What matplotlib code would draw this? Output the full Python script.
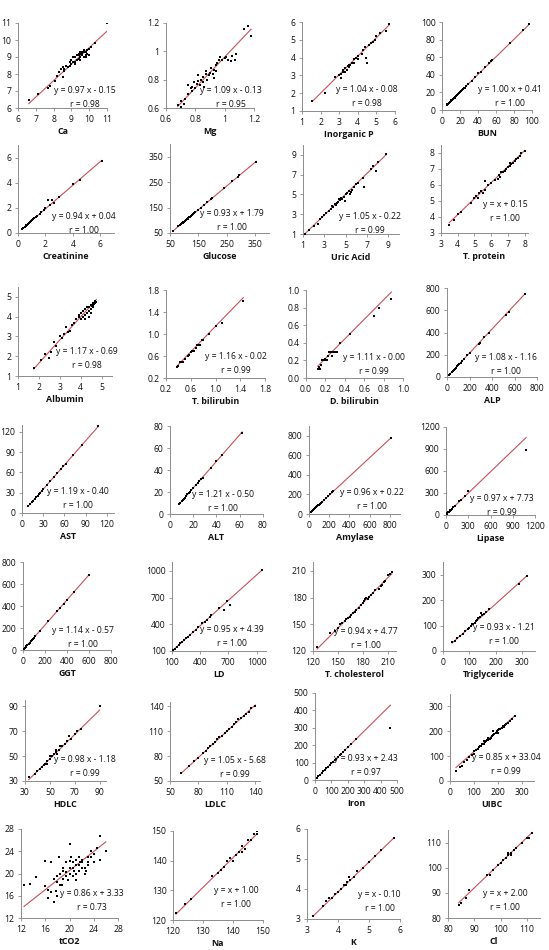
import matplotlib
matplotlib.use("Agg")
import matplotlib.pyplot as plt
import matplotlib.transforms as mtransforms
from matplotlib.ticker import FixedLocator, FuncFormatter

plt.rcParams['font.family'] = ['Open Sans', 'DejaVu Sans']

# ---------------- DATA ----------------
names = ["Ca", "Mg", "Inorganic P", "BUN",
         "Creatinine", "Glucose", "Uric Acid", "T. protein",
         "Albumin", "T. bilirubin", "D. bilirubin", "ALP",
         "AST", "ALT", "Amylase", "Lipase",
         "GGT", "LD", "T. cholesterol", "Triglyceride",
         "HDLC", "LDLC", "Iron", "UIBC",
         "tCO2", "Na", "K", "Cl"]

slopes = [0.97, 1.09, 1.04, 1.00,
          0.94, 0.93, 1.05, 1.00,
          1.17, 1.16, 1.11, 1.08,
          1.19, 1.21, 0.96, 0.97,
          1.14, 0.95, 0.94, 0.93,
          0.98, 1.05, 0.93, 0.85,
          0.86, 1.00, 1.00, 1.00]
intercepts = [-0.15, -0.13, -0.08, 0.41,
              0.04, 1.79, -0.22, 0.15,
              -0.69, -0.02, -0.00, -1.16,
              -0.40, -0.50, 0.22, 7.73,
              -0.57, 4.39, 4.77, -1.21,
              -1.18, -5.68, 2.43, 33.04,
              3.33, 1.00, -0.10, 2.00]
eq_labels = ["y = 0.97 x - 0.15", "y = 1.09 x - 0.13", "y = 1.04 x - 0.08", "y = 1.00 x + 0.41",
             "y = 0.94 x + 0.04", "y = 0.93 x + 1.79", "y = 1.05 x - 0.22", "y = x + 0.15",
             "y = 1.17 x - 0.69", "y = 1.16 x - 0.02", "y = 1.11 x - 0.00", "y = 1.08 x - 1.16",
             "y = 1.19 x - 0.40", "y = 1.21 x - 0.50", "y = 0.96 x + 0.22", "y = 0.97 x + 7.73",
             "y = 1.14 x - 0.57", "y = 0.95 x + 4.39", "y = 0.94 x + 4.77", "y = 0.93 x - 1.21",
             "y = 0.98 x - 1.18", "y = 1.05 x - 5.68", "y = 0.93 x + 2.43", "y = 0.85 x + 33.04",
             "y = 0.86 x + 3.33", "y = x + 1.00", "y = x - 0.10", "y = x + 2.00"]
r_labels = ["r = 0.98", "r = 0.95", "r = 0.98", "r = 1.00",
            "r = 1.00", "r = 1.00", "r = 0.99", "r = 1.00",
            "r = 0.98", "r = 0.99", "r = 0.99", "r = 1.00",
            "r = 1.00", "r = 1.00", "r = 1.00", "r = 0.99",
            "r = 1.00", "r = 1.00", "r = 1.00", "r = 1.00",
            "r = 0.99", "r = 0.99", "r = 0.97", "r = 0.99",
            "r = 0.73", "r = 1.00", "r = 1.00", "r = 1.00"]

ca_pts = [(6.6, 6.5), (7.1, 6.8), (7.7, 7.2), (7.8, 7.3), (8.1, 7.6), (8.2, 7.9), (8.4, 8.3), (8.5, 7.8),
          (8.5, 8.4), (8.6, 8.2), (8.7, 8.5), (8.8, 8.4), (8.9, 8.5), (8.9, 8.7), (9.0, 8.6), (9.0, 8.8),
          (9.1, 8.7), (9.1, 9.0), (9.2, 8.7), (9.2, 9.0), (9.3, 8.8), (9.3, 9.1), (9.4, 8.9), (9.4, 9.1),
          (9.4, 9.2), (9.5, 9.0), (9.5, 9.2), (9.5, 9.3), (9.6, 9.1), (9.6, 9.2), (9.6, 9.3), (9.7, 9.0),
          (9.7, 9.3), (9.7, 9.4), (9.8, 9.1), (9.8, 9.3), (9.9, 9.2), (9.9, 9.4), (10.0, 9.1), (10.0, 9.5),
          (10.1, 9.6), (10.3, 9.8), (11.0, 11.0), (8.3, 8.1), (8.6, 8.3), (9.2, 8.6), (9.5, 8.8), (9.8, 9.0)]
mg_pts = [(0.68, 0.62), (0.70, 0.61), (0.70, 0.65), (0.72, 0.63), (0.73, 0.66), (0.75, 0.70), (0.78, 0.72),
          (0.78, 0.75), (0.79, 0.78), (0.80, 0.74), (0.81, 0.77), (0.82, 0.79), (0.82, 0.83), (0.83, 0.76),
          (0.84, 0.80), (0.85, 0.78), (0.85, 0.82), (0.86, 0.75), (0.87, 0.84), (0.87, 0.86), (0.88, 0.80),
          (0.89, 0.83), (0.90, 0.85), (0.91, 0.88), (0.92, 0.84), (0.93, 0.81), (0.93, 0.87), (0.94, 0.86),
          (0.94, 0.90), (0.95, 0.92), (0.96, 0.94), (0.97, 0.96), (0.98, 0.94), (1.00, 0.95), (1.01, 0.96),
          (1.02, 0.94), (1.04, 0.93), (1.05, 0.97), (1.07, 0.94), (1.08, 0.98), (1.13, 1.16), (1.16, 1.18),
          (1.18, 1.11), (0.75, 0.76), (0.77, 0.74)]
ip_pts = [(1.55, 1.58), (2.25, 2.0), (2.8, 2.9), (3.0, 3.0), (3.1, 2.85), (3.1, 3.1), (3.2, 3.3), (3.3, 3.2),
          (3.3, 3.4), (3.4, 3.3), (3.5, 3.6), (3.5, 3.5), (3.6, 3.6), (3.7, 3.7), (3.8, 3.7), (3.8, 3.9),
          (3.9, 4.0), (4.0, 3.9), (4.0, 4.1), (4.2, 4.2), (4.3, 4.4), (4.4, 4.6), (4.45, 4.0), (4.5, 3.7),
          (4.6, 4.7), (4.7, 4.8), (4.8, 4.9), (4.9, 5.0), (5.0, 5.2), (5.2, 5.4), (5.5, 5.5), (5.7, 5.9),
          (3.2, 3.2), (3.45, 3.55)]
bun_pts = [(5, 5.5), (6, 6.5), (7, 7.3), (8, 8.5), (9, 9.2), (10, 10.5), (11, 11.3), (12, 12.4), (13, 13.5),
           (14, 14.2), (15, 15.6), (16, 16.3), (17, 17.5), (18, 18.2), (19, 19.6), (20, 20.3), (21, 21.5),
           (22, 22.2), (23, 23.6), (24, 24.5), (25, 25.3), (27, 27.5), (29, 29.6), (33, 33.2), (37, 38),
           (40, 42), (43, 43.5), (48, 49), (52, 53), (54, 56), (56, 57), (75, 76), (90, 91), (97, 98),
           (9.5, 10), (10.5, 11), (12.5, 12.8), (14.5, 15), (16.5, 17), (18.5, 19)]
cre_pts = [(0.3, 0.32), (0.4, 0.42), (0.5, 0.5), (0.55, 0.56), (0.6, 0.6), (0.65, 0.65), (0.7, 0.7),
           (0.75, 0.74), (0.8, 0.8), (0.85, 0.84), (0.9, 0.9), (0.95, 0.93), (1.0, 1.0), (1.05, 1.0),
           (1.1, 1.08), (1.2, 1.18), (1.3, 1.25), (1.4, 1.35), (1.6, 1.55), (1.7, 1.65), (1.9, 1.85),
           (2.0, 2.0), (2.2, 2.6), (2.3, 2.2), (2.5, 2.65), (2.6, 2.4), (3.0, 2.9), (4.0, 3.9), (4.5, 4.25),
           (6.1, 5.75)]
glu_pts = [(60, 58), (80, 78), (85, 82), (88, 84), (90, 86), (92, 88), (95, 90), (97, 92), (100, 95),
           (102, 96), (105, 100), (108, 102), (110, 104), (112, 106), (115, 108), (118, 112), (120, 114),
           (125, 118), (128, 121), (130, 124), (135, 128), (140, 132), (150, 142), (160, 150), (170, 160),
           (180, 170), (195, 185), (200, 188), (240, 225), (270, 255), (290, 272), (295, 278), (355, 330)]
ua_pts = [(1.2, 1.0), (1.6, 1.4), (2.0, 1.8), (2.4, 2.0), (2.6, 2.5), (2.8, 2.7), (3.0, 2.9), (3.2, 3.1),
          (3.4, 3.3), (3.6, 3.5), (3.7, 3.8), (3.8, 3.7), (4.0, 4.0), (4.1, 3.9), (4.3, 4.2), (4.4, 4.5),
          (4.5, 4.4), (4.6, 4.6), (4.7, 4.5), (4.8, 4.7), (4.9, 4.3), (5.0, 5.0), (5.1, 5.1), (5.3, 5.3),
          (5.5, 5.2), (5.6, 5.5), (5.8, 5.8), (6.0, 6.1), (6.2, 6.2), (6.6, 6.7), (6.7, 5.8), (7.4, 7.6),
          (7.6, 7.9), (7.8, 7.4), (8.0, 8.3), (8.8, 9.1), (5.4, 5.0), (4.2, 4.1)]
tp_pts = [(3.5, 3.5), (3.8, 3.8), (4.0, 4.2), (4.2, 4.3), (4.8, 4.9), (5.0, 5.2), (5.1, 5.3), (5.2, 5.2),
          (5.3, 5.5), (5.4, 5.6), (5.5, 5.5), (5.6, 5.7), (5.65, 6.25), (5.8, 6.0), (6.0, 6.1), (6.2, 6.3),
          (6.4, 6.4), (6.5, 6.5), (6.6, 6.8), (6.7, 6.8), (6.8, 6.9), (6.9, 7.0), (7.0, 7.1), (7.1, 7.2),
          (7.2, 7.3), (7.3, 7.4), (7.4, 7.5), (7.5, 7.6), (7.6, 7.7), (7.7, 7.8), (7.8, 8.0), (8.0, 8.1),
          (6.45, 6.6), (7.15, 7.35)]
alb_pts = [(1.75, 1.4), (2.1, 1.8), (2.3, 2.1), (2.5, 1.9), (2.6, 2.2), (2.7, 2.7), (2.8, 2.5), (3.0, 3.0),
           (3.1, 2.9), (3.2, 3.1), (3.3, 3.5), (3.4, 3.2), (3.5, 3.3), (3.6, 3.6), (3.7, 3.7), (3.8, 3.9),
           (3.9, 4.0), (3.9, 4.1), (4.0, 4.2), (4.0, 3.9), (4.1, 4.0), (4.1, 4.3), (4.2, 4.1), (4.2, 4.4),
           (4.3, 4.2), (4.3, 4.5), (4.4, 4.3), (4.4, 4.5), (4.5, 4.4), (4.5, 4.6), (4.5, 4.2), (4.6, 4.5),
           (4.6, 4.7), (4.6, 4.6), (4.7, 4.7), (4.7, 4.8), (4.75, 4.75), (4.2, 3.9), (4.4, 4.0),
           (4.55, 4.55), (4.65, 4.65)]
tb_pts = [(0.38, 0.4), (0.4, 0.42), (0.42, 0.5), (0.45, 0.5), (0.48, 0.5), (0.5, 0.55), (0.55, 0.6),
          (0.57, 0.62), (0.6, 0.68), (0.62, 0.7), (0.65, 0.7), (0.68, 0.75), (0.7, 0.8), (0.72, 0.8),
          (0.75, 0.8), (0.78, 0.9), (0.8, 0.9), (0.9, 1.0), (1.0, 1.15), (1.1, 1.2), (1.45, 1.6)]
db_pts = [(0.12, 0.1), (0.13, 0.12), (0.14, 0.1), (0.15, 0.15), (0.16, 0.2), (0.18, 0.2), (0.2, 0.2),
          (0.2, 0.22), (0.22, 0.2), (0.23, 0.25), (0.24, 0.3), (0.25, 0.3), (0.26, 0.3), (0.27, 0.3),
          (0.28, 0.3), (0.3, 0.3), (0.32, 0.3), (0.27, 0.25), (0.35, 0.4), (0.45, 0.5), (0.7, 0.7),
          (0.75, 0.8), (0.88, 0.9)]
alp_pts = [(20, 20), (30, 30), (40, 42), (50, 52), (60, 63), (70, 75), (80, 85), (90, 96), (100, 107),
           (110, 118), (120, 128), (130, 140), (150, 160), (180, 195), (200, 215), (280, 300), (290, 310),
           (330, 360), (370, 400), (520, 555), (550, 580), (690, 745)]
ast_pts = [(9, 10), (12, 14), (14, 16), (16, 18), (18, 21), (20, 23), (22, 25), (24, 28), (26, 30),
           (28, 33), (30, 35), (35, 41), (40, 47), (45, 53), (50, 59), (55, 65), (58, 69), (62, 73),
           (72, 85), (85, 101), (108, 128)]
alt_pts = [(8, 9), (9, 10), (10, 12), (11, 13), (12, 14), (13, 15), (14, 16), (15, 18), (16, 19),
           (17, 20), (18, 22), (20, 24), (22, 26), (24, 28), (25, 30), (27, 32), (28, 33), (35, 42),
           (40, 48), (45, 54), (62, 74)]
amy_pts = [(20, 20), (30, 29), (40, 39), (50, 48), (60, 58), (70, 67), (80, 77), (90, 87), (100, 96),
           (110, 106), (120, 115), (130, 125), (150, 144), (170, 163), (190, 183), (210, 202), (230, 221),
           (240, 232), (810, 778)]
lip_pts = [(10, 15), (20, 25), (30, 35), (40, 45), (50, 55), (60, 65), (70, 75), (80, 85), (100, 105),
           (120, 125), (180, 185), (200, 205), (250, 255), (290, 330), (1080, 890)]
ggt_pts = [(5, 5), (10, 11), (15, 17), (20, 22), (25, 28), (30, 34), (40, 45), (50, 56), (60, 68),
           (70, 80), (80, 90), (90, 102), (100, 113), (110, 125), (150, 170), (230, 262), (310, 352),
           (340, 385), (370, 420), (400, 455), (460, 525), (600, 685)]
ld_pts = [(110, 110), (130, 128), (150, 146), (170, 166), (190, 185), (210, 203), (230, 222), (250, 241),
          (270, 260), (290, 280), (320, 310), (350, 340), (380, 370), (420, 410), (450, 430), (470, 445),
          (500, 480), (520, 500), (600, 580), (650, 560), (690, 660), (720, 620), (1060, 1010)]
tc_pts = [(125, 124), (140, 140), (147, 143), (150, 146), (152, 150), (155, 151), (158, 154), (160, 156),
          (162, 157), (164, 158), (166, 160), (168, 163), (170, 164), (172, 166), (175, 168), (178, 172),
          (180, 174), (182, 176), (183, 178), (184, 180), (186, 178), (188, 181), (190, 183), (192, 185),
          (195, 188), (200, 190), (202, 193), (205, 198), (207, 199), (210, 205), (213, 207), (215, 209),
          (203, 194)]
tg_pts = [(35, 35), (45, 40), (55, 50), (65, 58), (75, 68), (85, 78), (95, 85), (100, 92), (105, 98),
          (110, 105), (115, 108), (120, 112), (125, 118), (130, 122), (135, 128), (140, 135), (145, 150),
          (150, 140), (155, 145), (165, 155), (175, 165), (290, 265), (320, 295)]
hdl_pts = [(33, 33), (38, 36), (40, 38), (42, 40), (44, 41), (45, 43), (46, 44), (48, 46), (50, 48),
           (50, 50), (52, 50), (53, 52), (55, 53), (55, 55), (57, 55), (58, 58), (60, 58), (62, 60),
           (64, 62), (65, 66), (67, 64), (70, 68), (72, 70), (75, 72), (90, 90), (48, 44), (56, 52)]
ldl_pts = [(62, 60), (70, 68), (75, 74), (80, 78), (85, 84), (88, 86), (90, 90), (92, 92), (95, 95),
           (98, 97), (100, 100), (102, 103), (105, 104), (108, 108), (110, 110), (112, 112), (115, 115),
           (118, 118), (120, 121), (122, 124), (125, 126), (128, 128), (130, 131), (133, 133), (136, 138),
           (140, 140)]
fe_pts = [(10, 12), (20, 21), (30, 30), (40, 40), (50, 49), (60, 58), (70, 68), (80, 77), (90, 86),
          (100, 95), (110, 104), (120, 114), (130, 123), (140, 132), (150, 142), (160, 151), (170, 160),
          (180, 170), (200, 188), (220, 208), (250, 235), (460, 300)]
uibc_pts = [(25, 40), (40, 55), (50, 60), (60, 75), (70, 85), (80, 95), (90, 105), (100, 110), (100, 120),
            (110, 125), (115, 130), (120, 135), (125, 140), (130, 140), (135, 150), (140, 148), (145, 155),
            (150, 160), (155, 165), (160, 165), (165, 170), (170, 175), (175, 180), (180, 185), (185, 190),
            (190, 195), (195, 200), (200, 205), (205, 210), (210, 208), (215, 215), (220, 220), (225, 218),
            (230, 225), (235, 230), (240, 235), (250, 240), (260, 250), (270, 260), (160, 175), (180, 200),
            (200, 195), (140, 160)]
co2_pts = [(12.5, 18), (13.5, 18.2), (14.5, 19.3), (16, 22.2), (16, 17.7), (16.5, 17), (16.5, 15.6),
           (17, 16.6), (17, 22), (17.5, 14.8), (17.5, 19), (18, 15.9), (18, 18.5), (18, 19.5), (18.3, 23),
           (18.5, 18), (18.5, 20), (19, 19), (19, 20.5), (19, 21), (19.5, 19.5), (19.5, 22), (19.5, 20.2),
           (20, 25.3), (20, 20), (20, 21), (20, 22.2), (20.5, 19.5), (20.5, 21), (20.5, 22), (21, 20),
           (21, 21.5), (21, 22.5), (21, 18.8), (21.5, 20.5), (21.5, 21.5), (21.5, 23), (22, 21), (22, 22),
           (22, 22.5), (22.5, 21), (22.5, 20), (23, 22), (23, 23), (23, 21.5), (23.5, 24), (23.5, 23),
           (24, 22), (24, 23.5), (24.5, 24.5), (25, 26.7), (25, 22.5), (26, 24), (18.8, 18), (19.8, 18.8),
           (20.8, 20.5), (17.8, 16.8), (22.8, 20.5), (20.2, 23), (21.8, 22)]
na_pts = [(121, 122.5), (124, 125.5), (126, 127), (133, 135), (135, 136), (136, 137), (137, 138),
          (138, 140), (139, 141), (140, 140), (141, 142), (142, 143), (143, 143), (143, 145), (144, 144),
          (145, 147), (146, 147), (147, 149), (148, 150), (148, 149)]
k_pts = [(3.2, 3.1), (3.5, 3.45), (3.6, 3.6), (3.7, 3.7), (3.8, 3.7), (3.9, 3.85), (4.0, 3.9), (4.1, 4.0),
         (4.2, 4.15), (4.3, 4.25), (4.4, 4.3), (4.5, 4.4), (4.6, 4.6), (4.8, 4.7), (5.0, 4.9), (5.2, 5.1),
         (5.4, 5.3), (5.8, 5.7), (4.25, 4.15), (4.35, 4.4)]
cl_pts = [(84, 85), (85, 86), (87, 88), (88, 91), (95, 97), (96, 97), (97, 99), (99, 101), (100, 102),
          (101, 103), (102, 104), (103, 105), (103, 106), (104, 105), (104, 106), (105, 107), (106, 108),
          (108, 110), (110, 112), (111, 112), (112, 114)]

all_pts = [ca_pts, mg_pts, ip_pts, bun_pts, cre_pts, glu_pts, ua_pts, tp_pts,
           alb_pts, tb_pts, db_pts, alp_pts, ast_pts, alt_pts, amy_pts, lip_pts,
           ggt_pts, ld_pts, tc_pts, tg_pts, hdl_pts, ldl_pts, fe_pts, uibc_pts,
           co2_pts, na_pts, k_pts, cl_pts]

# ticks per panel (x ticks, y ticks)
ticks = [
    ([6, 7, 8, 9, 10, 11], [6, 7, 8, 9, 10, 11]),
    ([0.6, 0.8, 1, 1.2], [0.6, 0.8, 1, 1.2]),
    ([1, 2, 3, 4, 5, 6], [1, 2, 3, 4, 5, 6]),
    ([0, 20, 40, 60, 80, 100], [0, 20, 40, 60, 80, 100]),
    ([0, 2, 4, 6], [0, 2, 4, 6]),
    ([50, 150, 250, 350], [50, 150, 250, 350]),
    ([1, 3, 5, 7, 9], [1, 3, 5, 7, 9]),
    ([3, 4, 5, 6, 7, 8], [3, 4, 5, 6, 7, 8]),
    ([1, 2, 3, 4, 5], [1, 2, 3, 4, 5]),
    ([0.2, 0.6, 1.0, 1.4, 1.8], [0.2, 0.6, 1.0, 1.4, 1.8]),
    ([0.0, 0.2, 0.4, 0.6, 0.8, 1.0], [0.0, 0.2, 0.4, 0.6, 0.8, 1.0]),
    ([0, 200, 400, 600, 800], [0, 200, 400, 600, 800]),
    ([0, 30, 60, 90, 120], [0, 30, 60, 90, 120]),
    ([0, 20, 40, 60, 80], [0, 20, 40, 60, 80]),
    ([0, 200, 400, 600, 800], [0, 200, 400, 600, 800]),
    ([0, 300, 600, 900, 1200], [0, 300, 600, 900, 1200]),
    ([0, 200, 400, 600, 800], [0, 200, 400, 600, 800]),
    ([100, 400, 700, 1000], [100, 400, 700, 1000]),
    ([120, 150, 180, 210], [120, 150, 180, 210]),
    ([0, 100, 200, 300], [0, 100, 200, 300]),
    ([30, 50, 70, 90], [30, 50, 70, 90]),
    ([50, 80, 110, 140], [50, 80, 110, 140]),
    ([0, 100, 200, 300, 400, 500], [0, 100, 200, 300, 400, 500]),
    ([0, 100, 200, 300], [0, 100, 200, 300]),
    ([12, 16, 20, 24, 28], [12, 16, 20, 24, 28]),
    ([120, 130, 140, 150], [120, 130, 140, 150]),
    ([3, 4, 5, 6], [3, 4, 5, 6]),
    ([80, 90, 100, 110], [80, 90, 100, 110]),
]
one_decimal = {"T. bilirubin", "D. bilirubin"}

# ---------------- LAYOUT ----------------
limits = [
    ((6, 11), (6, 11)), ((0.6, 1.2), (0.6, 1.2)), ((1, 6), (1, 6)), ((0, 100), (0, 100)),
    ((0, 7), (0, 7)), ((50, 400), (50, 400)), ((1, 10), (1, 10)), ((3, 8.2), (3, 8.5)),
    ((1, 5.5), (1, 5.5)), ((0.2, 1.8), (0.2, 1.8)), ((0, 1), (0, 1)), ((0, 800), (0, 800)),
    ((0, 130), (0, 130)), ((0, 80), (0, 80)), ((0, 900), (0, 900)), ((0, 1200), (0, 1200)),
    ((0, 800), (0, 800)), ((100, 1100), (100, 1100)), ((120, 220), (120, 220)), ((0, 350), (0, 350)),
    ((30, 95), (30, 95)), ((50, 145), (50, 145)), ((0, 500), (0, 500)), ((0, 350), (0, 350)),
    ((12, 28), (12, 28)), ((120, 150), (120, 150)), ((3, 6), (3, 6)), ((80, 115), (80, 115)),
]
boxes = [
    (18, 107, 23, 108), (166, 254, 23, 108), (302, 395, 22, 111), (442, 532, 22, 110),
    (18, 114, 145, 233), (170, 269, 144, 233), (303, 399, 145, 234), (441, 528, 145, 233),
    (18, 112, 287, 376), (166, 265, 290, 378), (306, 403, 290, 378), (447, 537, 288, 377),
    (22, 114, 425, 513), (170, 263, 426, 514), (309, 400, 426, 514), (446, 535, 427, 515),
    (23, 111, 562, 650), (172, 266, 562, 651), (313, 396, 562, 651), (443, 535, 562, 651),
    (25, 106, 700, 781), (170, 260, 702, 781), (315, 397, 693, 780), (450, 534, 694, 781),
    (21, 118, 829, 918), (173, 263, 831, 920), (307, 400, 829, 919), (448, 540, 830, 918),
]
txt_pos = [
    (0.75, 0.21), (0.74, 0.21), (0.70, 0.24), (0.76, 0.23),
    (0.69, 0.19), (0.63, 0.22), (0.70, 0.20), (0.74, 0.32),
    (0.73, 0.27), (0.71, 0.24), (0.70, 0.23), (0.66, 0.22),
    (0.61, 0.24), (0.57, 0.22), (0.69, 0.24), (0.63, 0.19),
    (0.68, 0.22), (0.64, 0.24), (0.64, 0.22), (0.66, 0.26),
    (0.74, 0.26), (0.72, 0.26), (0.62, 0.25), (0.67, 0.27),
    (0.73, 0.27), (0.70, 0.33), (0.78, 0.27), (0.62, 0.28),
]

W, H = 549, 950
fig = plt.figure(figsize=(W / 100, H / 100), dpi=100)
fig.patch.set_facecolor("white")

axis_col = "#8c8c8c"
line_col = "#c8505a"
fs = 6.2

for i, name in enumerate(names):
    L, R, T, B = boxes[i]
    ax = fig.add_axes([L / W, 1 - B / H, (R - L) / W, (B - T) / H])
    pts = all_pts[i]
    xs = [p[0] for p in pts]
    ys = [p[1] for p in pts]
    ax.scatter(xs, ys, s=2.4, c="black", marker="s", linewidths=0, zorder=3)
    x0, x1 = min(xs), max(xs)
    ax.plot([x0, x1], [slopes[i] * x0 + intercepts[i], slopes[i] * x1 + intercepts[i]],
            color=line_col, lw=0.8, zorder=2)
    (xl, yl) = limits[i]
    ax.set_xlim(*xl)
    ax.set_ylim(*yl)
    xt, yt = ticks[i]
    ax.xaxis.set_major_locator(FixedLocator(xt))
    ax.yaxis.set_major_locator(FixedLocator(yt))
    if name in one_decimal:
        fmt = FuncFormatter(lambda v, p: f"{v:.1f}")
    else:
        fmt = FuncFormatter(lambda v, p: f"{v:g}")
    ax.xaxis.set_major_formatter(fmt)
    ax.yaxis.set_major_formatter(fmt)
    for s in ["top", "right"]:
        ax.spines[s].set_visible(False)
    for s in ["left", "bottom"]:
        ax.spines[s].set_color(axis_col)
        ax.spines[s].set_linewidth(0.7)
    ax.tick_params(axis="both", labelsize=fs, length=2.2, width=0.6, color=axis_col,
                   pad=2.5, direction="out", labelcolor="#111111")
    ax.set_xlabel(name, fontsize=6.4, fontweight="bold", labelpad=2.5, color="#111111")
    ax.patch.set_alpha(0)

    cx, cy = txt_pos[i]
    ax.text(cx, cy, eq_labels[i], transform=ax.transAxes, fontsize=fs, ha="center",
            va="center", color="#111111", clip_on=False, zorder=4)
    rtrans = mtransforms.offset_copy(ax.transAxes, fig=fig, x=0, y=-14, units="dots")
    ax.text(cx, cy, r_labels[i], transform=rtrans, fontsize=fs, ha="center",
            va="center", color="#111111", clip_on=False, zorder=4)

fig.savefig("out.png", dpi=100, facecolor="white")
